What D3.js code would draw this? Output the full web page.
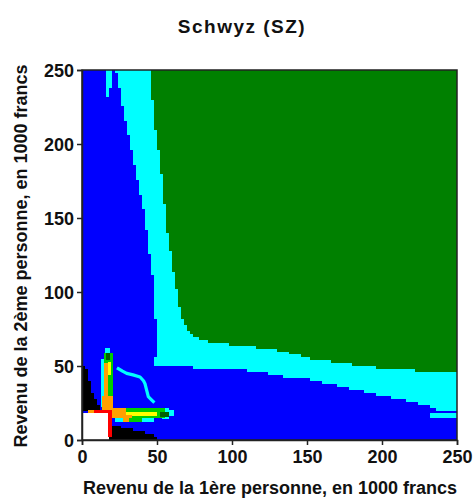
<!DOCTYPE html>
<html><head><meta charset="utf-8">
<script src="https://cdn.jsdelivr.net/npm/d3@7"></script>
<style>
html,body{margin:0;padding:0;background:#fff;}
svg{display:block;}
text{font-family:"Liberation Sans",Arial,sans-serif;font-weight:bold;fill:#111;}
</style></head>
<body>
<script>
// ---- data (incomes in 1000 francs) ----
const title = "Schwyz (SZ)";
const xLabel = "Revenu de la 1ère personne, en 1000 francs";
const yLabel = "Revenu de la 2ème personne, en 1000 francs";
const tickValues = [0, 50, 100, 150, 200, 250];
const domainMax = 250;
const cellSize = 2;

// boundary between blue (below/left) and cyan
const cyanEdge = [[22.4,250],[24.2,243],[26,230],[28.2,220],[30.2,210],[32,200],[34.2,191],[36,182],[38.2,171],[40.3,160],[42.3,146.5],[44,134],[45.3,123],[47.3,110],[48.5,90],[49.3,77],[49.3,57],[47.6,56],[47.6,51],[49,49.6],[75,49.6],[75,47.8],[110,47.8],[110,45.7],[124,45.7],[124,44.4],[134,44.4],[134,42.8],[146,42.8],[158.7,39.4],[172,36.5],[182,34.2],[192,32],[200,30.2],[210,28.2],[221,25.9],[230,23.6],[237.6,20.5],[250,20.5]];
// boundary between cyan (below/left) and green
const greenEdge = [[45.3,250],[47,230],[49,211],[50.5,200],[52,189],[54,170],[56.7,143],[60,121],[63.5,100],[65.8,85],[67.6,80],[69.8,76.6],[72,73],[76.4,70],[81,67.6],[90,65.8],[108,64],[130,61],[143,58],[150,55.5],[158,54],[173,52.3],[190,49.5],[212,47.7],[240,45.7],[250,45.5]];
// black zones
const blackLeft = [[0,20],[0,50],[2.7,48.4],[3.8,45],[5.3,38.3],[7.1,31.5],[10.4,27],[11.6,22.5],[13,20]];
const blackBottom = [[18,0],[18,2],[20,11],[23,10],[30,8],[40,5.6],[47,3.4],[50,1.5],[51,0]];
// thin cyan trail
const cyanTrail = [[24.2,48.2],[27,46.5],[29.8,45],[34,44],[38.7,42.6],[41,40],[42,38],[43,34],[44.2,29.3],[46,27.5],[47.5,26]];
// small patches: [category, x0, x1, y0, y1]
const patches = [
  ["cyan",16,18,232,250],["cyan",18,20,238,250],
  ["cyan",232,250,15,18],
  ["white",0,18,0,18],
  // vertical arm
  ["cyan",12.5,15,22,55],["lime",14.5,20.5,21,59],["yellow",17.5,19.5,44,53],
  ["orange",14.5,17.5,20,52],["orange",13,20.5,20,30],["dkgreen",16,18.5,54,58.5],["cyan",15.5,18.5,58.5,62],
  // horizontal arm
  ["cyan",53,58,14.5,21.4],["cyan",56,61,16.5,20],["cyan",22,28,12.4,14.6],["cyan",38,48,12.4,14.6],
  ["lime",20,55,14.6,21.4],["lime",27,40,12.4,14.6],["yellow",29,50,16.5,19],
  ["dkgreen",52,58,15.5,19],["orange",20,29,14.6,21.4],["orange",20,33,14.6,17],["orange",27.5,31,12.4,14.6],
  // red corner
  ["orange",3.8,8,18,20.5],["red",8,20,18,20.5],["red",17.5,20,2,20.5]
];
const colors = {blue:"#0000ff",cyan:"#00ffff",green:"#008000",black:"#000000",white:"#ffffff",
  red:"#ff0000",orange:"#ffa000",yellow:"#ffff00",lime:"#00cc00",dkgreen:"#006000"};

// ---- layout ----
const W = 476, H = 499;
const plot = {left:82, right:457, top:70, bottom:440};
const x = d3.scaleLinear().domain([0, domainMax]).range([plot.left, plot.right]);
const y = d3.scaleLinear().domain([0, domainMax]).range([plot.bottom, plot.top]);

const svg = d3.select("body").append("svg").attr("width", W).attr("height", H);

// ---- raster of regions ----
const cyanPoly = cyanEdge.concat([[domainMax, domainMax]]);
const greenPoly = greenEdge.concat([[domainMax, domainMax]]);
function classify(cx, cy) {
  if (d3.polygonContains(blackLeft, [cx, cy]) || d3.polygonContains(blackBottom, [cx, cy])) return "black";
  if (d3.polygonContains(greenPoly, [cx, cy])) return "green";
  if (d3.polygonContains(cyanPoly, [cx, cy])) return "cyan";
  return "blue";
}
const n = domainMax / cellSize;
const runs = [];
for (let j = 0; j < n; j++) {
  const y0 = j * cellSize;
  let start = 0, cur = classify(cellSize / 2, y0 + cellSize / 2);
  for (let i = 1; i <= n; i++) {
    const c = i < n ? classify(i * cellSize + cellSize / 2, y0 + cellSize / 2) : null;
    if (c !== cur) {
      runs.push({cat: cur, x0: start * cellSize, x1: i * cellSize, y0: y0, y1: y0 + cellSize});
      start = i; cur = c;
    }
  }
}
const g = svg.append("g").attr("shape-rendering", "crispEdges");
g.selectAll("rect.run").data(runs).join("rect").attr("class", "run")
  .attr("x", d => x(d.x0)).attr("y", d => y(d.y1))
  .attr("width", d => x(d.x1) - x(d.x0) + 0.3).attr("height", d => y(d.y0) - y(d.y1) + 0.3)
  .attr("fill", d => colors[d.cat]);

// cyan trail
svg.append("path").datum(cyanTrail)
  .attr("d", d3.line().x(d => x(d[0])).y(d => y(d[1])))
  .attr("fill", "none").attr("stroke", colors.cyan).attr("stroke-width", 3.2)
  .attr("stroke-linejoin", "round").attr("stroke-linecap", "square");

// patches
const g2 = svg.append("g").attr("shape-rendering", "crispEdges");
g2.selectAll("rect.patch").data(patches).join("rect").attr("class", "patch")
  .attr("x", d => x(d[1])).attr("y", d => y(d[4]))
  .attr("width", d => x(d[2]) - x(d[1])).attr("height", d => y(d[3]) - y(d[4]))
  .attr("fill", d => colors[d[0]]);

// frame
svg.append("rect").attr("x", plot.left).attr("y", plot.top)
  .attr("width", plot.right - plot.left).attr("height", plot.bottom - plot.top)
  .attr("fill", "none").attr("stroke", "#222").attr("stroke-width", 1.5);

// axes
const xAxis = svg.append("g").attr("transform", `translate(0,${plot.bottom})`)
  .call(d3.axisBottom(x).tickValues(tickValues).tickSize(5).tickPadding(5));
const yAxis = svg.append("g").attr("transform", `translate(${plot.left},0)`)
  .call(d3.axisLeft(y).tickValues(tickValues).tickSize(5).tickPadding(3));
[xAxis, yAxis].forEach(a => {
  a.select(".domain").attr("stroke", "#222").attr("stroke-width", 1.5);
  a.selectAll(".tick line").attr("stroke", "#222").attr("stroke-width", 1.5);
  a.selectAll(".tick text").attr("font-size", 18).attr("font-family", "Liberation Sans, Arial, sans-serif")
    .attr("font-weight", "bold").attr("fill", "#111");
});
yAxis.selectAll(".tick text").attr("dy", "0.36em");

// titles
svg.append("text").attr("x", 242).attr("y", 33).attr("text-anchor", "middle")
  .attr("font-size", 19).attr("letter-spacing", 1.5).text(title);
svg.append("text").attr("x", 270).attr("y", 494).attr("text-anchor", "middle")
  .attr("font-size", 18).text(xLabel);
svg.append("text").attr("transform", `translate(27,256) rotate(-90)`).attr("text-anchor", "middle")
  .attr("font-size", 18).text(yLabel);
</script>
</body></html>
